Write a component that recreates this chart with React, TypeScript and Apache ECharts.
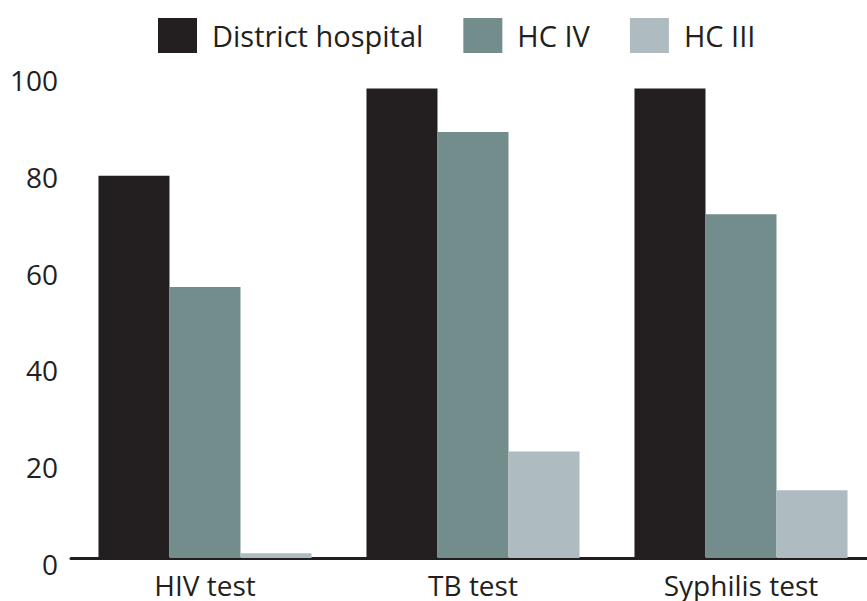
import React, { useEffect, useRef } from "react";
import * as echarts from "echarts";

const categories = ["HIV test", "TB test", "Syphilis test"];
const seriesNames = ["District hospital", "HC IV", "HC III"];
const districtHospital = [79, 97, 97];
const hcIV = [56, 88, 71];
const hcIII = [1, 22, 14];
const yTicks = [0, 20, 40, 60, 80, 100];
const colors = ["#231f20", "#738d8c", "#aebbc0"];

export default function App() {
  const ref = useRef<HTMLDivElement>(null);
  useEffect(() => {
    if (!ref.current) return;
    const chart = echarts.init(ref.current, undefined, { renderer: "svg" });
    const font = "'Open Sans', sans-serif";
    const values = [districtHospital, hcIV, hcIII];
    chart.setOption({
      animation: false,
      backgroundColor: "#ffffff",
      textStyle: { fontFamily: font, color: "#231f20" },
      legend: {
        left: 153,
        top: 13,
        itemWidth: 39,
        itemHeight: 35,
        itemGap: 40,
        icon: "rect",
        data: seriesNames,
        textStyle: {
          fontFamily: font,
          fontSize: 29,
          color: "#231f20",
          padding: [0, 0, 0, 10],
        },
      },
      grid: { left: 71, right: 0, top: 74, bottom: 43, containLabel: false },
      xAxis: {
        type: "category",
        data: categories,
        axisLine: { show: true, lineStyle: { color: "#231f20", width: 3 } },
        axisTick: { show: false },
        axisLabel: { fontFamily: font, fontSize: 28, color: "#231f20", margin: 13 },
      },
      yAxis: {
        type: "value",
        min: yTicks[0],
        max: yTicks[yTicks.length - 1],
        interval: 20,
        axisLine: { show: false },
        axisTick: { show: false },
        splitLine: { show: false },
        axisLabel: {
          fontFamily: font,
          fontSize: 28,
          color: "#231f20",
          margin: 13,
          verticalAlign: "top",
          lineHeight: 12,
        },
      },
      series: seriesNames.map((name, i) => ({
        name,
        type: "bar",
        data: values[i],
        barGap: "0%",
        barCategoryGap: "20.5%",
        itemStyle: { color: colors[i] },
      })),
    });
    return () => chart.dispose();
  }, []);
  return (
    <div
      style={{
        position: "fixed",
        left: 0,
        top: 0,
        width: 867,
        height: 601,
        overflow: "hidden",
      }}
    >
      <div ref={ref} style={{ width: 875, height: 601 }} />
    </div>
  );
}
